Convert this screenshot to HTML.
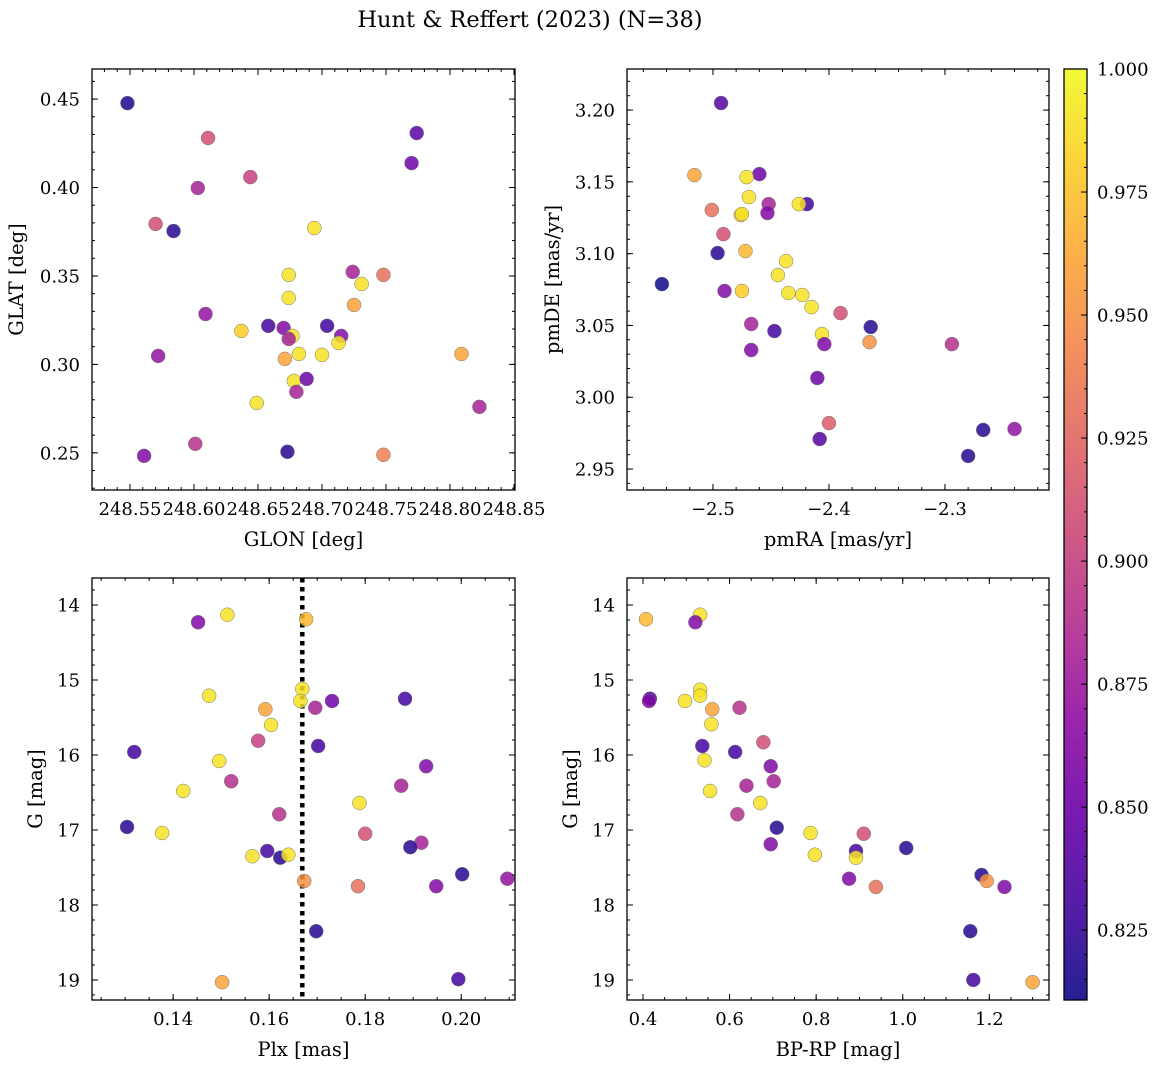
<!DOCTYPE html>
<html><head><meta charset="utf-8"><style>
html,body{margin:0;padding:0;background:#fff;}
svg{display:block;font-family:"DejaVu Serif","Liberation Serif",serif;}
</style></head><body>
<svg id="fig" width="1161" height="1068" viewBox="0 0 1161 1068" xmlns="http://www.w3.org/2000/svg">
<text x="530" y="27" text-anchor="middle" font-size="22.5">Hunt &amp; Reffert (2023) (N=38)</text>
</svg>
<script>
// ---- data ----
const glon = [248.548,248.611,248.774,248.770,248.603,248.644,248.570,248.584,248.694,248.674,248.724,248.748,248.731,248.725,248.674,248.609,248.637,248.658,248.670,248.704,248.677,248.674,248.715,248.713,248.682,248.700,248.671,248.572,248.809,248.678,248.688,248.680,248.649,248.823,248.601,248.561,248.673,248.748];
const glat = [0.4477,0.428,0.4308,0.4138,0.3997,0.4059,0.3794,0.3754,0.3771,0.3506,0.3523,0.3506,0.3455,0.3336,0.3376,0.3285,0.3189,0.3218,0.3206,0.3218,0.3161,0.3144,0.3161,0.3121,0.3059,0.3054,0.3031,0.3048,0.3059,0.2907,0.2918,0.2845,0.2782,0.276,0.2551,0.2483,0.2506,0.2489];
const probA = [0.815,0.91,0.84,0.85,0.88,0.90,0.91,0.82,0.99,0.99,0.88,0.93,0.99,0.96,0.99,0.87,0.98,0.83,0.86,0.83,0.99,0.88,0.86,0.99,0.99,0.99,0.96,0.87,0.96,0.99,0.85,0.88,0.99,0.88,0.89,0.86,0.82,0.94];

const pmra = [-2.493,-2.516,-2.460,-2.471,-2.501,-2.469,-2.452,-2.476,-2.419,-2.426,-2.453,-2.491,-2.472,-2.437,-2.496,-2.544,-2.444,-2.490,-2.475,-2.435,-2.423,-2.415,-2.390,-2.467,-2.447,-2.364,-2.406,-2.467,-2.404,-2.365,-2.294,-2.410,-2.400,-2.408,-2.267,-2.240,-2.280,-2.475];
const pmde = [3.2049,3.1547,3.1554,3.1533,3.1304,3.1394,3.1345,3.1269,3.1345,3.1345,3.1283,3.1136,3.1018,3.0948,3.1004,3.0788,3.0851,3.074,3.074,3.0726,3.0712,3.0628,3.0586,3.051,3.0461,3.0489,3.044,3.0329,3.037,3.0384,3.037,3.0134,2.982,2.9709,2.9772,2.9779,2.9591,3.1276];
const probB = [0.84,0.96,0.85,0.99,0.93,0.99,0.88,0.975,0.83,0.99,0.86,0.91,0.97,0.99,0.82,0.81,0.99,0.86,0.98,0.99,0.99,0.99,0.91,0.88,0.83,0.82,0.99,0.86,0.86,0.95,0.89,0.85,0.92,0.84,0.82,0.87,0.82,0.99];

const plx = [0.1513,0.1677,0.1452,0.1475,0.1592,0.1669,0.1665,0.1696,0.1731,0.1883,0.1604,0.1577,0.1702,0.1319,0.1496,0.1927,0.1521,0.1421,0.1875,0.1788,0.1621,0.1800,0.1304,0.1377,0.1917,0.1894,0.1565,0.1596,0.1623,0.1640,0.1673,0.1785,0.1948,0.2002,0.2096,0.1698,0.1502,0.1994];
const gmagC = [14.13,14.19,14.23,15.21,15.39,15.12,15.28,15.37,15.28,15.25,15.6,15.81,15.88,15.96,16.08,16.15,16.35,16.48,16.41,16.64,16.79,17.05,16.96,17.04,17.17,17.23,17.35,17.28,17.37,17.33,17.68,17.75,17.75,17.59,17.65,18.35,19.03,18.99];
const probC = [0.99,0.97,0.86,0.99,0.96,0.99,0.99,0.88,0.85,0.83,0.99,0.90,0.83,0.83,0.99,0.86,0.89,0.99,0.88,0.99,0.89,0.91,0.82,0.99,0.88,0.82,0.99,0.83,0.82,0.99,0.95,0.93,0.86,0.82,0.87,0.82,0.96,0.83];
const plxMean = [0.1669];

const bprp = [0.407,0.532,0.521,0.416,0.414,0.532,0.532,0.497,0.56,0.623,0.558,0.537,0.613,0.542,0.678,0.695,0.555,0.639,0.702,0.671,0.618,0.709,0.787,0.91,0.695,1.008,0.797,0.892,0.892,1.182,1.194,1.235,0.876,0.938,1.156,1.163,1.30];
const gmagD = [14.19,14.13,14.23,15.25,15.28,15.13,15.21,15.28,15.39,15.37,15.59,15.88,15.96,16.07,15.83,16.15,16.48,16.41,16.35,16.64,16.79,16.97,17.04,17.05,17.19,17.24,17.33,17.28,17.37,17.6,17.68,17.76,17.65,17.76,18.35,19.0,19.03];
const probD = [0.97,0.99,0.86,0.83,0.86,0.99,0.99,0.99,0.96,0.89,0.99,0.83,0.83,0.99,0.91,0.86,0.99,0.88,0.88,0.99,0.89,0.82,0.99,0.91,0.86,0.82,0.99,0.83,0.99,0.82,0.95,0.86,0.86,0.93,0.82,0.83,0.96];

const cbTicks = [0.825,0.850,0.875,0.900,0.925,0.950,0.975,1.000];
const cbRange = [0.8108,1.0];

// ---- helpers ----
const NS = "http://www.w3.org/2000/svg";
const svg = document.getElementById('fig');
function mk(tag, attrs, parent){ const e=document.createElementNS(NS,tag); for(const k in attrs) e.setAttribute(k,attrs[k]); (parent||svg).appendChild(e); return e; }
const plasma = [[13,8,135],[65,4,157],[106,0,168],[143,13,164],[177,42,144],[204,71,120],[225,100,98],[242,132,75],[252,166,54],[252,206,37],[240,249,33]];
function cmap(v){ let t=(v-cbRange[0])/(cbRange[1]-cbRange[0]); t=Math.max(0,Math.min(1,t)); const f=t*10, i=Math.min(9,Math.floor(f)), r=f-i; const a=plasma[i], b=plasma[i+1]; return 'rgb('+a.map((c,j)=>Math.round(c+(b[j]-c)*r)).join(',')+')'; }
function rng(a,b,s){ const o=[]; for(let v=a; v<=b+1e-9; v+=s) o.push(+v.toFixed(6)); return o; }
const fmtMinus = s => s.replace('-', '\u2212');

function panel(cfg){
  const g = mk('g',{});
  
  
  const {x0,y0,w,h,xd,yd} = cfg;
  const sx = v => x0 + (v-xd[0])/(xd[1]-xd[0])*w;
  const sy = v => y0 + (v-yd[0])/(yd[1]-yd[0])*h;
  const inX = v => v>=Math.min(...xd)-1e-9 && v<=Math.max(...xd)+1e-9;
  const inY = v => v>=Math.min(...yd)-1e-9 && v<=Math.max(...yd)+1e-9;
  if(cfg.vline!==undefined){
    const l=mk('line',{x1:sx(cfg.vline),x2:sx(cfg.vline),y1:y0,y2:y0+h,stroke:'#000','stroke-width':4.5,'stroke-dasharray':'4.5,4.5'},g);
    
    
  }
  cfg.xs.forEach((xv,i)=>{
    const c=mk('circle',{cx:sx(xv),cy:sy(cfg.ys[i]),r:7,fill:cmap(cfg.c[i]),'fill-opacity':0.85,stroke:'#777','stroke-width':0.5},g);
    
    
  });
  const tk = mk('g',{stroke:'#000','stroke-width':1},g);
  cfg.xmin.forEach(v=>{ if(!inX(v))return; const X=sx(v); mk('line',{x1:X,x2:X,y1:y0+h,y2:y0+h-3},tk); mk('line',{x1:X,x2:X,y1:y0,y2:y0+3},tk); });
  cfg.ymin.forEach(v=>{ if(!inY(v))return; const Y=sy(v); mk('line',{x1:x0,x2:x0+3,y1:Y,y2:Y},tk); mk('line',{x1:x0+w,x2:x0+w-3,y1:Y,y2:Y},tk); });
  cfg.xt.forEach(v=>{ const X=sx(v); mk('line',{x1:X,x2:X,y1:y0+h,y2:y0+h-6},tk); mk('line',{x1:X,x2:X,y1:y0,y2:y0+6},tk);
    const t=mk('text',{x:X,y:y0+h+25,'text-anchor':'middle','font-size':18},g); t.textContent=fmtMinus(v.toFixed(cfg.xdp));
    
     });
  cfg.yt.forEach(v=>{ const Y=sy(v); mk('line',{x1:x0,x2:x0+6,y1:Y,y2:Y},tk); mk('line',{x1:x0+w,x2:x0+w-6,y1:Y,y2:Y},tk);
    const t=mk('text',{x:x0-12,y:Y+6.5,'text-anchor':'end','font-size':18},g); t.textContent=fmtMinus(v.toFixed(cfg.ydp));
    
     });
  const fr=mk('rect',{x:x0,y:y0,width:w,height:h,fill:'none',stroke:'#000','stroke-width':1.3},g);
  
  
  const xl=mk('text',{x:x0+w/2,y:y0+h+56,'text-anchor':'middle','font-size':19.5},g); xl.textContent=cfg.xlabel;
  
  
  const yl=mk('text',{x:cfg.ylx,y:y0+h/2,'text-anchor':'middle','font-size':19.5,transform:'rotate(-90 '+cfg.ylx+' '+(y0+h/2)+')'},g); yl.textContent=cfg.ylabel;
  
  
}

panel({name:'panel-glon-glat',x0:92,y0:69,w:423,h:421,xd:[248.5203,248.8508],yd:[0.467,0.229],
  xs:glon,ys:glat,c:probA,xt:rng(248.55,248.85,0.05),xmin:rng(248.52,248.85,0.01),yt:rng(0.25,0.45,0.05),ymin:rng(0.23,0.46,0.01),
  xdp:2,ydp:2,xlabel:'GLON [deg]',ylabel:'GLAT [deg]',ylx:23});
panel({name:'panel-pmra-pmde',x0:627,y0:69,w:422,h:421,xd:[-2.5741,-2.2103],yd:[3.2286,2.9354],
  xs:pmra,ys:pmde,c:probB,xt:[-2.5,-2.4,-2.3],xmin:rng(-2.56,-2.22,0.02),yt:rng(2.95,3.20,0.05),ymin:rng(2.94,3.22,0.01),
  xdp:1,ydp:2,xlabel:'pmRA [mas/yr]',ylabel:'pmDE [mas/yr]',ylx:559});
panel({name:'panel-plx-g',x0:92,y0:578,w:423,h:422,xd:[0.1231,0.2112],yd:[13.64,19.267],
  xs:plx,ys:gmagC,c:probC,vline:plxMean[0],xt:rng(0.14,0.20,0.02),xmin:rng(0.125,0.21,0.005),yt:rng(14,19,1),ymin:rng(13.8,19.2,0.2),
  xdp:2,ydp:0,xlabel:'Plx [mas]',ylabel:'G [mag]',ylx:42});
panel({name:'panel-bprp-g',x0:627,y0:578,w:422,h:422,xd:[0.3631,1.3378],yd:[13.64,19.267],
  xs:bprp,ys:gmagD,c:probD,xt:rng(0.4,1.2,0.2),xmin:rng(0.4,1.3,0.05),yt:rng(14,19,1),ymin:rng(13.8,19.2,0.2),
  xdp:1,ydp:0,xlabel:'BP-RP [mag]',ylabel:'G [mag]',ylx:577});

// ---- colorbar ----
(function(){
  const x0=1064,y0=69,w=23,h=931;
  const defs=mk('defs',{});
  const lg=mk('linearGradient',{id:'plasmaGrad',x1:0,y1:1,x2:0,y2:0},defs);
  plasma.forEach((c,i)=>mk('stop',{offset:(i/10),'stop-color':'rgb('+c.join(',')+')','stop-opacity':0.9},lg));
  const g=mk('g',{});
  
  
  mk('rect',{x:x0,y:y0,width:w,height:h,fill:'url(#plasmaGrad)',stroke:'#000','stroke-width':1.3},g);
  const sy=v=>y0+(cbRange[1]-v)/(cbRange[1]-cbRange[0])*h;
  rng(0.815,1.0,0.005).forEach(v=>{ const Y=sy(v); mk('line',{x1:x0+w,x2:x0+w-3,y1:Y,y2:Y,stroke:'#000','stroke-width':1},g); });
  cbTicks.forEach(v=>{ const Y=sy(v); mk('line',{x1:x0+w,x2:x0+w-6,y1:Y,y2:Y,stroke:'#000','stroke-width':1},g);
    const t=mk('text',{x:x0+w+10,y:Y+6.5,'font-size':18},g); t.textContent=v.toFixed(3);
    
     });
})();
</script>
</body></html>
